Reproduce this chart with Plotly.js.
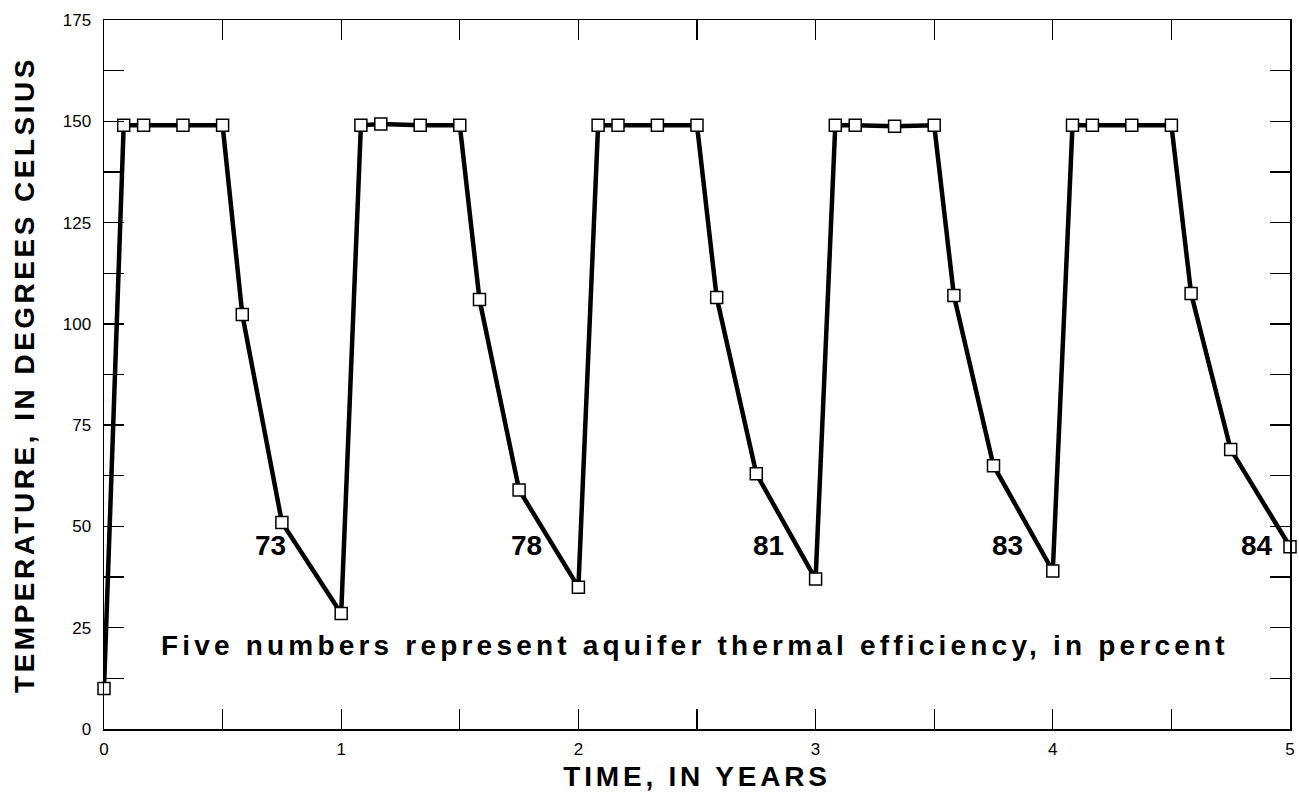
<!DOCTYPE html>
<html>
<head>
<meta charset="utf-8">
<script src="https://cdn.plot.ly/plotly-3.0.1.min.js"></script>
<style>
  html, body { margin: 0; padding: 0; background: #fff; }
  #chart { width: 1299px; height: 794px; }
</style>
</head>
<body>
<div id="chart"></div>
<script>
// ---- data ----
const timeYears = [
  0, 0.083, 0.167, 0.333, 0.5, 0.583, 0.75, 1.0,
  1.083, 1.167, 1.333, 1.5, 1.583, 1.75, 2.0,
  2.083, 2.167, 2.333, 2.5, 2.583, 2.75, 3.0,
  3.083, 3.167, 3.333, 3.5, 3.583, 3.75, 4.0,
  4.083, 4.167, 4.333, 4.5, 4.583, 4.75, 5.0
];
const temperatureC = [
  10, 149, 149, 149, 149, 102.3, 51, 28.5,
  149, 149.3, 149, 149, 106, 59, 35,
  149, 149, 149, 149, 106.5, 63, 37,
  149, 149, 148.8, 149, 107, 65, 39,
  149, 149, 149, 149, 107.5, 69, 45
];
const efficiencyPercent = ['73', '78', '81', '83', '84'];
const efficiencyLabelX = [0.70, 1.78, 2.80, 3.81, 4.86];
const efficiencyLabelY = 45.4;
const noteText = 'Five numbers represent aquifer thermal efficiency, in percent';
const yTickVals = [0, 12.5, 25, 37.5, 50, 62.5, 75, 87.5, 100, 112.5, 125, 137.5, 150, 162.5, 175];
const yTickText = ['0', '', '25', '', '50', '', '75', '', '100', '', '125', '', '150', '', '175'];
const xTickVals = [0, 0.5, 1, 1.5, 2, 2.5, 3, 3.5, 4, 4.5, 5];
const xTickText = ['0', '', '1', '', '2', '', '3', '', '4', '', '5'];

const FONT = '"Liberation Sans", Arial, Helvetica, sans-serif';

const trace = {
  x: timeYears,
  y: temperatureC,
  type: 'scatter',
  mode: 'lines+markers',
  line: { color: '#000', width: 4.5 },
  marker: { symbol: 'square', size: 12, color: '#fff', line: { color: '#000', width: 1.5 } },
  cliponaxis: false,
  hoverinfo: 'x+y'
};

const annotations = efficiencyPercent.map((t, i) => ({
  x: efficiencyLabelX[i], y: efficiencyLabelY, xref: 'x', yref: 'y',
  text: '<b>' + t + '</b>', showarrow: false,
  font: { family: FONT, size: 28, color: '#000' }
}));
annotations.push({
  x: 2.49, y: 20.7, xref: 'x', yref: 'y',
  text: '<b>' + noteText + '</b>', showarrow: false,
  font: { family: FONT, size: 28, color: '#000' }
});

const axisCommon = {
  showgrid: false, zeroline: false, showline: true, linecolor: '#000', linewidth: 1.5,
  mirror: 'ticks', ticks: 'inside', ticklen: 20, tickwidth: 1.3, tickcolor: '#000',
  tickmode: 'array', tickfont: { family: FONT, size: 17, color: '#000' }
};

const layout = {
  width: 1299, height: 794,
  margin: { l: 104, r: 9, t: 20, b: 65 },
  paper_bgcolor: '#fff', plot_bgcolor: '#fff',
  showlegend: false,
  font: { family: FONT, color: '#000' },
  xaxis: Object.assign({}, axisCommon, {
    range: [0, 5], tickvals: xTickVals, ticktext: xTickText, ticklabelstandoff: 4,
    title: { text: '<b>TIME, IN YEARS</b>', font: { family: FONT, size: 28, color: '#000' }, standoff: 8 }
  }),
  yaxis: Object.assign({}, axisCommon, {
    range: [0, 175], tickvals: yTickVals, ticktext: yTickText, ticklabelstandoff: 8,
    title: { text: '<b>TEMPERATURE, IN DEGREES CELSIUS</b>', font: { family: FONT, size: 28, color: '#000' }, standoff: 20 }
  }),
  annotations: annotations
};

Plotly.newPlot('chart', [trace], layout, { displayModeBar: false, staticPlot: true }).then(() => {
  document.querySelectorAll('.ytitle').forEach(el => el.style.letterSpacing = '3.5px');
  document.querySelectorAll('.xtitle').forEach(el => el.style.letterSpacing = '3.8px');
  const ann = document.querySelectorAll('.annotation-text');
  if (ann.length) ann[ann.length - 1].style.letterSpacing = '4.2px';
});
</script>
</body>
</html>
